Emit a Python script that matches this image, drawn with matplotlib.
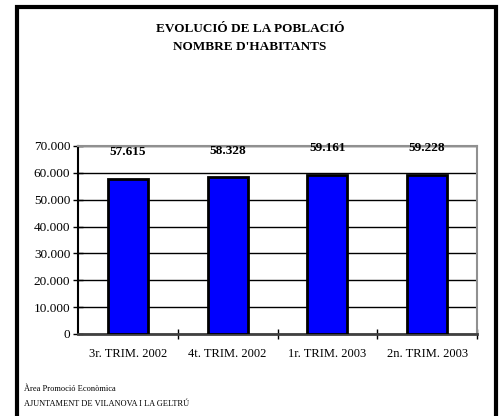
import matplotlib.pyplot as plt
from matplotlib.patches import Rectangle
from matplotlib.ticker import FuncFormatter, FixedLocator

plt.rcParams['font.family'] = ['Liberation Serif', 'DejaVu Serif']

categories = ["3r. TRIM. 2002", "4t. TRIM. 2002", "1r. TRIM. 2003", "2n. TRIM. 2003"]
habitants = [57615, 58328, 59161, 59228]
yticks = [0, 10000, 20000, 30000, 40000, 50000, 60000, 70000]

W, H = 499, 416
fig = plt.figure(figsize=(W / 100, H / 100), dpi=100)

# outer frame (open at the bottom)
fig.patches.append(Rectangle((17 / W, -0.05), (496 - 17) / W, (H - 7) / H + 0.05,
                             transform=fig.transFigure, fill=False,
                             edgecolor='black', linewidth=3))

ax = fig.add_axes([78 / W, (H - 334) / H, (477 - 78) / W, (334 - 146) / H])

x = range(len(categories))
ax.bar(x, habitants, width=0.4, color='#0000ff', edgecolor='black', linewidth=2, zorder=3)

for xi, v in zip(x, habitants):
    label = f"{v:,}".replace(",", ".")
    ax.annotate(label, (xi, v), xytext=(0, 15), textcoords='offset points',
                ha='center', va='bottom', fontsize=9.5, fontweight='bold')

ax.set_xlim(-0.5, len(categories) - 0.5)
ax.set_ylim(0, 70000)
ax.yaxis.set_major_locator(FixedLocator(yticks))
ax.yaxis.set_major_formatter(FuncFormatter(lambda v, p: f"{int(v):,}".replace(",", ".")))
ax.grid(axis='y', color='black', linewidth=1, zorder=0)

ax.set_xticks(list(x))
ax.set_xticklabels(categories, fontsize=9)
ax.set_xticks([i + 0.5 for i in range(len(categories))], minor=True)
ax.tick_params(axis='x', which='major', length=0, pad=10)
ax.tick_params(axis='x', which='minor', direction='inout', length=7, width=1)
ax.tick_params(axis='y', direction='inout', length=7, width=1, labelsize=9.5, pad=2)

ax.spines['left'].set_color('black')
ax.spines['left'].set_linewidth(1.5)
ax.spines['bottom'].set_color('#404040')
ax.spines['bottom'].set_linewidth(2)
ax.spines['top'].set_color('#909090')
ax.spines['top'].set_linewidth(1.5)
ax.spines['right'].set_color('#909090')
ax.spines['right'].set_linewidth(1.5)

fig.text(250 / W, (H - 29) / H, "EVOLUCIÓ DE LA POBLACIÓ", ha='center', va='center',
         fontsize=9.5, fontweight='bold')
fig.text(250 / W, (H - 47) / H, "NOMBRE D'HABITANTS", ha='center', va='center',
         fontsize=9.5, fontweight='bold')

fig.text(24 / W, (H - 389) / H, "Àrea Promoció Econòmica", ha='left', va='center', fontsize=6)
fig.text(24 / W, (H - 404) / H, "AJUNTAMENT DE VILANOVA I LA GELTRÚ", ha='left', va='center', fontsize=6)

fig.savefig("out.png", dpi=100)
